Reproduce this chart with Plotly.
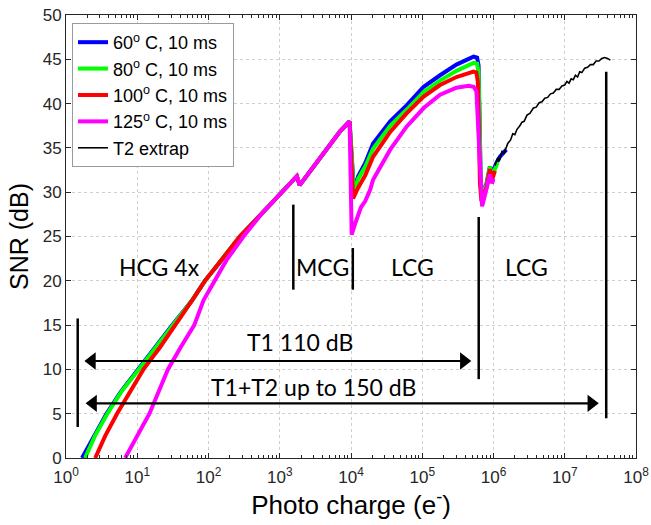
import plotly.graph_objects as go

# ---------------- data ----------------
blue_x = [1.68, 2.45, 3.7, 5.9, 10.2, 17.8, 30.9, 58.9, 89.1, 145, 275, 562, 1072, 1738, 1905,
          3162, 5623, 7079, 9550, 10960, 12590, 15850, 20420, 35480, 60260, 104700, 177800,
          302000, 524800, 588800, 616600, 660700, 691800, 794300, 891300, 955000, 1096000,
          1230000, 1514000]
blue_y = [0, 2.5, 5, 7.5, 10, 12.5, 15, 17.8, 20, 22.1, 25, 27.6, 30, 31.8, 30.8,
          33.1, 35.7, 36.9, 38.0, 30.2, 31.8, 33.3, 35.5, 38.0, 39.8, 41.9, 43.2,
          44.4, 45.3, 45.2, 44.3, 31.5, 29.7, 30.9, 32.9, 32.1, 33.3,
          34.0, 34.8]

green_x = [1.85, 2.55, 3.8, 6.0, 10.5, 18.2, 31.6, 58.9, 89.1, 145, 275, 562, 1072, 1738, 1905,
           3162, 5623, 7079, 9550, 10960, 12590, 15850, 20420, 35480, 60260, 104700, 177800,
           302000, 524800, 588800, 616600, 660700, 691800, 794300, 891300, 955000, 1096000,
           1148000]
green_y = [0, 2.5, 5, 7.5, 10, 12.5, 15, 17.8, 20, 22.1, 25, 27.6, 30, 31.8, 30.8,
           33.1, 35.7, 36.9, 38.0, 30.0, 31.5, 32.9, 34.9, 37.5, 39.3, 41.3, 42.6,
           43.7, 44.6, 44.5, 43.5, 31.3, 29.6, 30.8, 32.9, 31.8, 33.0,
           33.4]

red_x = [2.57, 3.55, 5.2, 7.9, 12.2, 20.9, 34.7, 58.9, 89.1, 145, 275, 562, 1072, 1738, 1905,
         3162, 5623, 7079, 9550, 10720, 12590, 15850, 20420, 35480, 60260, 104700, 177800,
         302000, 524800, 575400, 602600, 645700, 676100, 794300, 891300, 955000, 1047000]
red_y = [0, 2.5, 5, 7.5, 10, 12.5, 15, 17.8, 20, 22.1, 25, 27.6, 30, 31.8, 30.8,
         33.1, 35.7, 36.9, 38.0, 29.3, 30.5, 31.9, 34.0, 36.8, 38.9, 40.8, 42.1,
         43.0, 43.6, 43.5, 42.5, 31.0, 29.0, 30.5, 32.6, 31.4, 32.4]

magenta_x = [6.76, 10, 14.8, 20.0, 26.9, 40.7, 63.1, 85.1, 123, 178, 309, 562, 1072, 1738, 1905,
             3162, 5623, 7079, 9550, 10230, 11480, 13800, 15850, 18620, 20420, 35480, 60260,
             104700, 177800, 302000, 446700, 524800, 575400, 631000, 691800, 794300, 891300,
             955000, 1000000]
magenta_y = [0, 2.5, 5, 7.5, 10, 12.5, 15, 17.8, 20, 22.3, 25, 27.6, 30, 31.8, 30.8,
             33.1, 35.7, 36.9, 38.0, 25.2, 26.5, 28.3, 29.0, 30.3, 31.4, 34.8, 37.4,
             39.5, 41.0, 41.8, 42.0, 41.9, 41.4, 35.0, 28.4, 30.3, 32.0,
             31.0, 31.5]

t2_x = [1047000, 1148000, 1202000, 1318000, 1413000, 1585000, 1738000, 1862000, 1995000,
        2138000, 2344000, 2512000, 2692000, 2951000, 3236000, 3631000, 3981000, 4365000,
        4786000, 5248000, 5754000, 6310000, 6918000, 7586000, 8318000, 9120000, 10000000,
        10720000, 11480000, 12300000, 13180000, 14130000, 15140000, 16220000, 17380000,
        19050000, 20890000, 22910000, 25120000, 27540000, 30200000, 33110000, 36310000,
        39810000, 43650000]
t2_y = [33.0, 33.9, 33.5, 34.6, 34.4, 35.5, 35.9, 36.6, 36.5,
        37.1, 37.5, 37.9, 38.0, 38.7, 38.9, 39.5, 39.6, 40.1,
        40.2, 40.6, 40.7, 41.1, 41.2, 41.6, 41.6, 42.0, 42.1,
        42.5, 42.3, 42.8, 42.7, 43.2, 43.0, 43.6, 43.5,
        44.0, 44.1, 44.4, 44.4, 44.8, 44.8, 45.1, 45.2,
        45.1, 44.9]

series_names = ["60<sup>o</sup> C, 10 ms", "80<sup>o</sup> C, 10 ms", "100<sup>o</sup> C, 10 ms",
                "125<sup>o</sup> C, 10 ms", "T2 extrap"]

x_tickvals = [1, 10, 100, 1000, 10000, 100000, 1000000, 10000000, 100000000]
x_ticktext = ["10<sup>0</sup>", "10<sup>1</sup>", "10<sup>2</sup>", "10<sup>3</sup>", "10<sup>4</sup>",
              "10<sup>5</sup>", "10<sup>6</sup>", "10<sup>7</sup>", "10<sup>8</sup>"]

# region markers (vertical bars): x, y_bottom, y_top
region_bars = [(1.46, 3.5, 15.75), (1550, 19.0, 28.6), (10600, 19.0, 23.7),
               (620000, 8.9, 27.2), (38200000, 4.5, 43.6)]
# double arrows: x_left, x_right, y
range_arrows = [(2.31, 383000, 10.95), (2.40, 23600000, 6.17)]
# text labels: text, log10(x), y
region_labels = [("HCG 4x", 1.31, 21.6), ("MCG", 3.60, 21.6), ("LCG", 4.86, 21.6),
                 ("LCG", 6.46, 21.6), ("T1 110 dB", 3.28, 13.1),
                 ("T1+T2 up to 150 dB", 3.47, 8.05)]

# ---------------- figure ----------------
fig = go.Figure()
colors = ["#0000ff", "#00ff00", "#ff0000", "#ff00ff", "#000000"]
data = [(blue_x, blue_y), (green_x, green_y), (red_x, red_y), (magenta_x, magenta_y), (t2_x, t2_y)]
for i, (xs, ys) in enumerate(data):
    fig.add_trace(go.Scatter(x=xs, y=ys, mode="lines", name=series_names[i],
                             line=dict(color=colors[i], width=4 if i < 4 else 1.6)))

for (bx, y0, y1) in region_bars:
    fig.add_trace(go.Scatter(x=[bx, bx], y=[y0, y1], mode="lines", showlegend=False,
                             line=dict(color="black", width=2.5), hoverinfo="skip"))

for (xl, xr, ay) in range_arrows:
    fig.add_trace(go.Scatter(x=[xl, xr], y=[ay, ay], mode="lines+markers", showlegend=False,
                             line=dict(color="black", width=2.2),
                             marker=dict(symbol=["triangle-left", "triangle-right"], size=15,
                                         color="black"),
                             hoverinfo="skip"))

for (txt, lx, ty) in region_labels:
    fig.add_annotation(x=lx, y=ty, text=txt, showarrow=False, xref="x", yref="y",
                       font=dict(family="Lato", size=23, color="black"))

axis_font = dict(family="Liberation Sans, Arial", size=17, color="#262626")
fig.update_xaxes(type="log", range=[0, 8], tickmode="array", tickvals=x_tickvals,
                 ticktext=x_ticktext, tickfont=axis_font, automargin=False,
                 ticklabelstandoff=4,
                 showgrid=True, gridcolor="#cfcfcf", griddash="dot", gridwidth=1,
                 showline=True, linecolor="#262626", linewidth=1, mirror="ticks",
                 ticks="inside", ticklen=5, tickcolor="#262626",
                 minor=dict(ticks="inside", ticklen=3, tickcolor="#262626", showgrid=False,
                            tickmode="array",
                            tickvals=[m * 10 ** k for k in range(8) for m in range(2, 10)]),
                 zeroline=False,
                 title=dict(text="Photo charge (e<sup>-</sup>)", standoff=1,
                            font=dict(family="Liberation Sans, Arial", size=26, color="black")))
fig.update_yaxes(range=[0, 50], tickmode="linear", tick0=0, dtick=5, tickfont=axis_font,
                 automargin=False,
                 showgrid=True, gridcolor="#cfcfcf", griddash="dot", gridwidth=1,
                 showline=True, linecolor="#262626", linewidth=1, mirror="ticks",
                 ticks="inside", ticklen=5, tickcolor="#262626", zeroline=False,
                 title=dict(text="SNR (dB)", standoff=6,
                            font=dict(family="Liberation Sans, Arial", size=25, color="black")))

fig.update_layout(width=651, height=525, margin=dict(l=66, r=15, t=15, b=67),
                  plot_bgcolor="white", paper_bgcolor="white",
                  legend=dict(x=0.0105, y=0.982, xanchor="left", yanchor="top",
                              bgcolor="white", bordercolor="#9a9a9a", borderwidth=1,
                              font=dict(family="Liberation Sans, Arial", size=18, color="black"),
                              tracegroupgap=0),
                  showlegend=True)

fig.write_html("out.html", config={"displayModeBar": False},
               post_script="document.body.style.margin='0';")
